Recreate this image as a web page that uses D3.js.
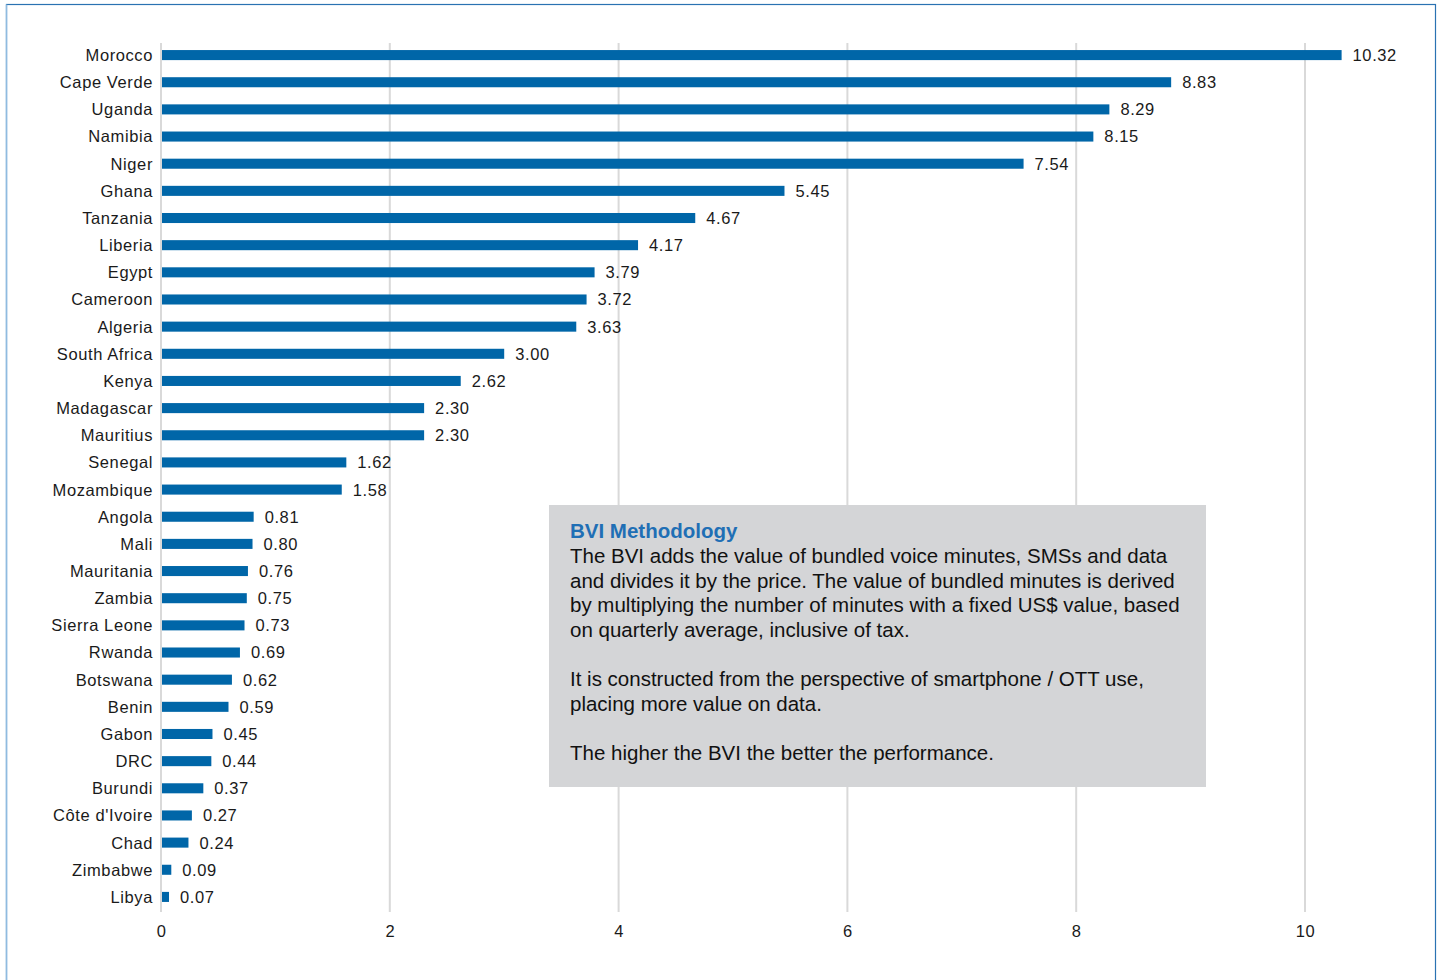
<!DOCTYPE html>
<html>
<head>
<meta charset="utf-8">
<script src="https://cdn.jsdelivr.net/npm/d3@7"></script>
<style>
  body { margin: 0; background: #fff; }
  svg { display: block; font-family: "Liberation Sans", Arial, sans-serif; }
</style>
</head>
<body>
<svg width="1438" height="980"></svg>
<script>
// data
const countries = ["Morocco", "Cape Verde", "Uganda", "Namibia", "Niger", "Ghana", "Tanzania", "Liberia",
  "Egypt", "Cameroon", "Algeria", "South Africa", "Kenya", "Madagascar", "Mauritius", "Senegal",
  "Mozambique", "Angola", "Mali", "Mauritania", "Zambia", "Sierra Leone", "Rwanda", "Botswana",
  "Benin", "Gabon", "DRC", "Burundi", "Côte d'Ivoire", "Chad", "Zimbabwe", "Libya"];
const bvi = [10.32, 8.83, 8.29, 8.15, 7.54, 5.45, 4.67, 4.17, 3.79, 3.72, 3.63, 3.00, 2.62, 2.30, 2.30, 1.62,
  1.58, 0.81, 0.80, 0.76, 0.75, 0.73, 0.69, 0.62, 0.59, 0.45, 0.44, 0.37, 0.27, 0.24, 0.09, 0.07];
const xTicks = [0, 2, 4, 6, 8, 10];

const noteTitle = "BVI Methodology";
const noteLines = [
  "The BVI adds the value of bundled voice minutes, SMSs and data",
  "and divides it by the price. The value of bundled minutes is derived",
  "by multiplying the number of minutes with a fixed US$ value, based",
  "on quarterly average, inclusive of tax.",
  "",
  "It is constructed from the perspective of smartphone / OTT use,",
  "placing more value on data.",
  "",
  "The higher the BVI the better the performance."
];

const svg = d3.select("svg");
const barColor = "#0066a8";

// frame
svg.append("rect")
  .attr("x", 6.5).attr("y", 4.5)
  .attr("width", 1429).attr("height", 990)
  .attr("fill", "none")
  .attr("stroke", "#2a72b2")
  .attr("stroke-width", 1.2);
svg.append("line")
  .attr("x1", 6.5).attr("x2", 6.5).attr("y1", 4.5).attr("y2", 980)
  .attr("stroke", "#8fbbe0").attr("stroke-width", 1.5);

const x = d3.scaleLinear().domain([0, 10]).range([161, 1305]);
const y = d3.scaleBand().domain(countries).range([41.5, 910.5]).paddingInner(0.63).paddingOuter(0.315);

// gridlines
svg.append("g")
  .selectAll("line")
  .data(xTicks)
  .enter()
  .append("line")
    .attr("x1", d => x(d)).attr("x2", d => x(d))
    .attr("y1", 43).attr("y2", 912)
    .attr("stroke", "#d9d9d9")
    .attr("stroke-width", 2);

// x axis labels
const xAxis = svg.append("g")
  .attr("transform", "translate(0,912)")
  .call(d3.axisBottom(x).tickValues(xTicks).tickSize(0).tickPadding(13).tickFormat(d3.format("d")));
xAxis.select(".domain").remove();
xAxis.selectAll("text")
  .attr("font-size", 16.5)
  .attr("font-family", "Liberation Sans, Arial, sans-serif")
  .attr("letter-spacing", "0.5px")
  .attr("fill", "#1a1a1a");

// bars
svg.append("g")
  .selectAll("rect")
  .data(countries)
  .enter()
  .append("rect")
    .attr("x", x(0) + 1)
    .attr("y", d => y(d))
    .attr("width", (d, i) => x(bvi[i]) - x(0) - 1)
    .attr("height", y.bandwidth())
    .attr("fill", barColor);

// category labels
svg.append("g")
  .selectAll("text")
  .data(countries)
  .enter()
  .append("text")
    .attr("x", 153)
    .attr("y", d => y(d) + y.bandwidth() / 2)
    .attr("dy", "0.36em")
    .attr("text-anchor", "end")
    .attr("font-size", 16.5)
    .attr("letter-spacing", "0.6px")
    .attr("fill", "#1a1a1a")
    .text(d => d);

// value labels
svg.append("g")
  .selectAll("text")
  .data(countries)
  .enter()
  .append("text")
    .attr("x", (d, i) => x(bvi[i]) + 11)
    .attr("y", d => y(d) + y.bandwidth() / 2)
    .attr("dy", "0.36em")
    .attr("font-size", 16.5)
    .attr("letter-spacing", "0.6px")
    .attr("fill", "#1a1a1a")
    .text((d, i) => bvi[i].toFixed(2));

// methodology box
const note = svg.append("g");
note.append("rect")
  .attr("x", 549).attr("y", 505)
  .attr("width", 657).attr("height", 282)
  .attr("fill", "#d4d5d7");
note.append("text")
  .attr("x", 570).attr("y", 538)
  .attr("font-size", 20.5)
  .attr("font-weight", "bold")
  .attr("fill", "#1f6fb5")
  .text(noteTitle);
note.append("g")
  .selectAll("text")
  .data(noteLines)
  .enter()
  .append("text")
    .attr("x", 570)
    .attr("y", (d, i) => 563 + i * 24.6)
    .attr("font-size", 20.5)
    .attr("fill", "#111")
    .text(d => d);
</script>
</body>
</html>
